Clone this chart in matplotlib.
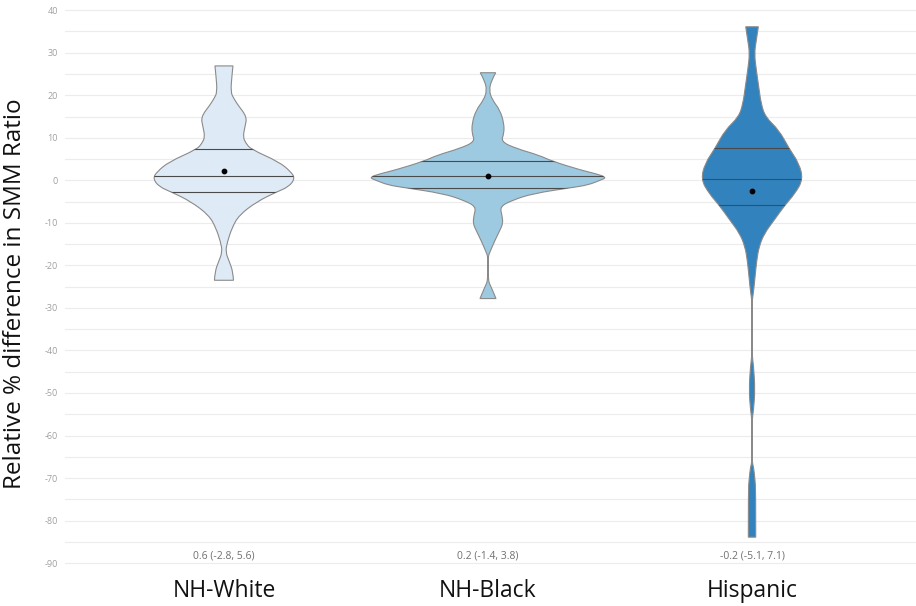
import numpy as np
import matplotlib.pyplot as plt
from matplotlib.path import Path
from matplotlib.patches import PathPatch

plt.rcParams['font.family'] = ['Open Sans', 'DejaVu Sans']
plt.rcParams['axes.unicode_minus'] = False

groups = ['NH-White', 'NH-Black', 'Hispanic']
summary = ['0.6 (-2.8, 5.6)', '0.2 (-1.4, 3.8)', '-0.2 (-5.1, 7.1)']
fills = ['#deebf7', '#9ecae1', '#3182bd']

# violin outlines: value on the y axis and density (half width) at that value
white_y = [26.9, 24.7, 20.7, 19.2, 17.7, 14.9, 12.6, 10.2, 8.7, 7.3, 4.35, 2.0, 0.45,
           -1.5, -2.8, -5.0, -8.2, -11.2, -14.4, -16.8, -19.2, -21.5, -23.5]
white_d = [9, 8, 6.7, 10, 14, 23, 21, 19, 22, 27, 55, 67, 71,
           65, 52, 33, 15, 8, 3.5, 1.5, 5.5, 9, 9.5]

black_y = [25.3, 23.6, 21.2, 18.9, 16.5, 13.4, 11.0, 9.1, 7.5, 5.9, 4.5, 2.4, 1.6, 0.7,
           0.0, -1.1, -1.7, -3.1, -4.7, -6.2, -8.2, -10.1, -11.7, -14.1, -16.8, -18.0,
           -23.5, -25.0, -27.8]
black_d = [7.7, 3.7, 1, 4.3, 12, 16, 16, 13, 28, 51, 64, 93, 107, 119,
           112, 100, 84, 45, 24, 12, 14, 15, 12, 7, 2, 0,
           0, 3, 8]

hisp_y = [36.1, 33, 29.8, 25.9, 22.0, 18.1, 14.9, 11.8, 7.5, 4.0, 0.2, -3.1, -5.8,
          -9.4, -12.5, -15.6, -18.8, -22.7, -25.8, -27.4, -29, -41.1, -43.5, -49.3,
          -54, -56.4, -66.2, -67.3, -70.5, -73, -83.9]
hisp_d = [6.3, 4.3, 2.3, 4.3, 6.7, 9, 13.3, 27, 37, 47, 51, 43, 33,
          22, 12.3, 7, 4.7, 3, 1.7, 0.7, 0, 0, 1.5, 3,
          1.5, 0, 0, 1.5, 3, 3.7, 3.7]

quartiles = [[7.3, 1.06, -2.8], [4.5, 1.1, -1.7], [7.5, 0.2, -5.8]]
means = [2.15, 1.1, -2.5]

profiles = [(white_y, white_d), (black_y, black_d), (hisp_y, hisp_d)]
width_scale = 1 / 264


def smooth_side(pts):
    # quadratic curve chain: inner points act as control points
    verts, codes = [], []
    n = len(pts)
    for k in range(1, n - 1):
        end = pts[-1] if k == n - 2 else (pts[k] + pts[k + 1]) / 2
        verts += [pts[k], end]
        codes += [Path.CURVE3, Path.CURVE3]
    return verts, codes


def violin_path(pos, y, w):
    right = np.column_stack([pos + w, y])
    left = np.column_stack([pos - w, y])[::-1]
    verts = [left[-1], right[0]]
    codes = [Path.MOVETO, Path.LINETO]
    v, c = smooth_side(right)
    verts += v
    codes += c
    verts.append(left[0])
    codes.append(Path.LINETO)
    v, c = smooth_side(left)
    verts += v
    codes += c
    verts.append(left[-1])
    codes.append(Path.CLOSEPOLY)
    return Path(verts, codes)


fig = plt.figure(figsize=(9.16, 6.06), dpi=100)
ax = fig.add_axes([65 / 916, 1 - 575 / 606, 1 - 65 / 916, 575 / 606])

for i, (yv, dv) in enumerate(profiles):
    pos = i + 1
    y = np.array(yv, dtype=float)
    w = np.array(dv, dtype=float) * width_scale
    patch = PathPatch(violin_path(pos, y, w), facecolor=fills[i],
                      edgecolor='#8a8a8a', linewidth=0.8, zorder=3)
    ax.add_patch(patch)
    for q in quartiles[i]:
        line, = ax.plot([pos - 0.5, pos + 0.5], [q, q], color='#4a4a4a', lw=0.8, zorder=4)
        line.set_clip_path(patch)
    ax.scatter([pos], [means[i]], s=10, color='black', zorder=5)
    ax.text(pos, -88.3, summary[i], ha='center', va='center',
            fontsize=7.5, color='#707070')

ax.set_xlim(0.398, 3.621)
ax.set_ylim(-92.8, 42.4)
ax.set_xticks([1, 2, 3])
ax.set_xticklabels(groups, fontsize=16.5, color='#111111')
ax.set_yticks(np.arange(-90, 41, 10))
ax.set_yticks(np.arange(-85, 41, 10), minor=True)
ax.tick_params(axis='y', labelsize=6.5, labelcolor='#a0a0a0', length=0, pad=5)
ax.tick_params(axis='x', length=0, pad=3)
ax.tick_params(which='minor', length=0)
ax.grid(True, which='both', axis='y', color='#ececec', lw=0.8)
ax.set_axisbelow(True)
for s in ax.spines.values():
    s.set_visible(False)

fig.text(15 / 916, 1 - 294 / 606, 'Relative % difference in SMM Ratio',
         rotation=90, ha='center', va='center', fontsize=17.5, color='#111111')

fig.savefig('out.png', dpi=100)
